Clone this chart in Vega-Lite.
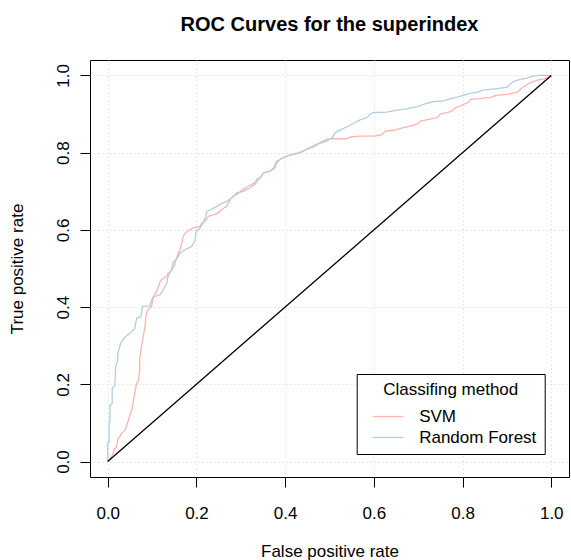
{
  "$schema": "https://vega.github.io/schema/vega-lite/v6.json",
  "width": 479,
  "height": 417,
  "autosize": "none",
  "padding": {"left": 90, "top": 60, "right": 2, "bottom": 83},
  "background": "white",
  "config": {
    "view": {"stroke": "black", "strokeWidth": 1},
    "font": "Liberation Sans"
  },
  "title": {
    "text": "ROC Curves for the superindex",
    "font": "Liberation Sans",
    "fontSize": 20,
    "fontWeight": "bold",
    "color": "black",
    "anchor": "middle",
    "frame": "group",
    "baseline": "alphabetic",
    "offset": 9
  },
  "datasets": {
    "roc": [
      {"m":"SVM","i":0,"x":0,"y":0},{"m":"SVM","i":1,"x":0.005,"y":0.008},{"m":"SVM","i":2,"x":0.008,"y":0.012},{"m":"SVM","i":3,"x":0.012,"y":0.021},{"m":"SVM","i":4,"x":0.016,"y":0.034},{"m":"SVM","i":5,"x":0.02,"y":0.038},{"m":"SVM","i":6,"x":0.023,"y":0.06},{"m":"SVM","i":7,"x":0.027,"y":0.064},{"m":"SVM","i":8,"x":0.031,"y":0.073},{"m":"SVM","i":9,"x":0.038,"y":0.08},{"m":"SVM","i":10,"x":0.042,"y":0.09},{"m":"SVM","i":11,"x":0.046,"y":0.105},{"m":"SVM","i":12,"x":0.05,"y":0.12},{"m":"SVM","i":13,"x":0.054,"y":0.133},{"m":"SVM","i":14,"x":0.057,"y":0.151},{"m":"SVM","i":15,"x":0.061,"y":0.177},{"m":"SVM","i":16,"x":0.065,"y":0.203},{"m":"SVM","i":17,"x":0.069,"y":0.207},{"m":"SVM","i":18,"x":0.072,"y":0.233},{"m":"SVM","i":19,"x":0.072,"y":0.263},{"m":"SVM","i":20,"x":0.076,"y":0.298},{"m":"SVM","i":21,"x":0.08,"y":0.324},{"m":"SVM","i":22,"x":0.084,"y":0.35},{"m":"SVM","i":23,"x":0.087,"y":0.384},{"m":"SVM","i":24,"x":0.091,"y":0.393},{"m":"SVM","i":25,"x":0.099,"y":0.402},{"m":"SVM","i":26,"x":0.102,"y":0.425},{"m":"SVM","i":27,"x":0.11,"y":0.44},{"m":"SVM","i":28,"x":0.114,"y":0.453},{"m":"SVM","i":29,"x":0.118,"y":0.466},{"m":"SVM","i":30,"x":0.125,"y":0.475},{"m":"SVM","i":31,"x":0.133,"y":0.48},{"m":"SVM","i":32,"x":0.136,"y":0.488},{"m":"SVM","i":33,"x":0.144,"y":0.495},{"m":"SVM","i":34,"x":0.151,"y":0.51},{"m":"SVM","i":35,"x":0.155,"y":0.528},{"m":"SVM","i":36,"x":0.159,"y":0.54},{"m":"SVM","i":37,"x":0.163,"y":0.549},{"m":"SVM","i":38,"x":0.167,"y":0.566},{"m":"SVM","i":39,"x":0.17,"y":0.583},{"m":"SVM","i":40,"x":0.178,"y":0.596},{"m":"SVM","i":41,"x":0.193,"y":0.605},{"m":"SVM","i":42,"x":0.2,"y":0.607},{"m":"SVM","i":43,"x":0.208,"y":0.609},{"m":"SVM","i":44,"x":0.212,"y":0.618},{"m":"SVM","i":45,"x":0.219,"y":0.622},{"m":"SVM","i":46,"x":0.227,"y":0.635},{"m":"SVM","i":47,"x":0.242,"y":0.64},{"m":"SVM","i":48,"x":0.249,"y":0.644},{"m":"SVM","i":49,"x":0.257,"y":0.653},{"m":"SVM","i":50,"x":0.268,"y":0.661},{"m":"SVM","i":51,"x":0.276,"y":0.679},{"m":"SVM","i":52,"x":0.283,"y":0.687},{"m":"SVM","i":53,"x":0.291,"y":0.692},{"m":"SVM","i":54,"x":0.306,"y":0.705},{"m":"SVM","i":55,"x":0.317,"y":0.713},{"m":"SVM","i":56,"x":0.325,"y":0.718},{"m":"SVM","i":57,"x":0.332,"y":0.722},{"m":"SVM","i":58,"x":0.336,"y":0.731},{"m":"SVM","i":59,"x":0.343,"y":0.735},{"m":"SVM","i":60,"x":0.351,"y":0.748},{"m":"SVM","i":61,"x":0.366,"y":0.752},{"m":"SVM","i":62,"x":0.374,"y":0.761},{"m":"SVM","i":63,"x":0.381,"y":0.778},{"m":"SVM","i":64,"x":0.396,"y":0.787},{"m":"SVM","i":65,"x":0.407,"y":0.793},{"m":"SVM","i":66,"x":0.419,"y":0.796},{"m":"SVM","i":67,"x":0.434,"y":0.8},{"m":"SVM","i":68,"x":0.449,"y":0.809},{"m":"SVM","i":69,"x":0.464,"y":0.815},{"m":"SVM","i":70,"x":0.479,"y":0.826},{"m":"SVM","i":71,"x":0.494,"y":0.835},{"m":"SVM","i":72,"x":0.509,"y":0.836},{"m":"SVM","i":73,"x":0.539,"y":0.836},{"m":"SVM","i":74,"x":0.547,"y":0.841},{"m":"SVM","i":75,"x":0.569,"y":0.843},{"m":"SVM","i":76,"x":0.6,"y":0.843},{"m":"SVM","i":77,"x":0.618,"y":0.846},{"m":"SVM","i":78,"x":0.626,"y":0.856},{"m":"SVM","i":79,"x":0.645,"y":0.858},{"m":"SVM","i":80,"x":0.66,"y":0.863},{"m":"SVM","i":81,"x":0.682,"y":0.869},{"m":"SVM","i":82,"x":0.698,"y":0.874},{"m":"SVM","i":83,"x":0.705,"y":0.882},{"m":"SVM","i":84,"x":0.724,"y":0.886},{"m":"SVM","i":85,"x":0.743,"y":0.891},{"m":"SVM","i":86,"x":0.75,"y":0.9},{"m":"SVM","i":87,"x":0.765,"y":0.904},{"m":"SVM","i":88,"x":0.777,"y":0.908},{"m":"SVM","i":89,"x":0.784,"y":0.917},{"m":"SVM","i":90,"x":0.795,"y":0.921},{"m":"SVM","i":91,"x":0.814,"y":0.931},{"m":"SVM","i":92,"x":0.818,"y":0.938},{"m":"SVM","i":93,"x":0.841,"y":0.94},{"m":"SVM","i":94,"x":0.863,"y":0.943},{"m":"SVM","i":95,"x":0.878,"y":0.949},{"m":"SVM","i":96,"x":0.901,"y":0.951},{"m":"SVM","i":97,"x":0.924,"y":0.957},{"m":"SVM","i":98,"x":0.935,"y":0.969},{"m":"SVM","i":99,"x":0.954,"y":0.982},{"m":"SVM","i":100,"x":0.969,"y":0.988},{"m":"SVM","i":101,"x":0.984,"y":0.991},{"m":"SVM","i":102,"x":1,"y":1},
      {"m":"Random Forest","i":0,"x":0,"y":0},{"m":"Random Forest","i":1,"x":0,"y":0.05},{"m":"Random Forest","i":2,"x":0.003,"y":0.05},{"m":"Random Forest","i":3,"x":0.003,"y":0.099},{"m":"Random Forest","i":4,"x":0.005,"y":0.105},{"m":"Random Forest","i":5,"x":0.005,"y":0.146},{"m":"Random Forest","i":6,"x":0.01,"y":0.15},{"m":"Random Forest","i":7,"x":0.01,"y":0.19},{"m":"Random Forest","i":8,"x":0.016,"y":0.196},{"m":"Random Forest","i":9,"x":0.018,"y":0.246},{"m":"Random Forest","i":10,"x":0.022,"y":0.26},{"m":"Random Forest","i":11,"x":0.023,"y":0.28},{"m":"Random Forest","i":12,"x":0.029,"y":0.306},{"m":"Random Forest","i":13,"x":0.038,"y":0.322},{"m":"Random Forest","i":14,"x":0.05,"y":0.332},{"m":"Random Forest","i":15,"x":0.061,"y":0.345},{"m":"Random Forest","i":16,"x":0.065,"y":0.371},{"m":"Random Forest","i":17,"x":0.075,"y":0.376},{"m":"Random Forest","i":18,"x":0.078,"y":0.402},{"m":"Random Forest","i":19,"x":0.095,"y":0.403},{"m":"Random Forest","i":20,"x":0.099,"y":0.419},{"m":"Random Forest","i":21,"x":0.106,"y":0.428},{"m":"Random Forest","i":22,"x":0.118,"y":0.432},{"m":"Random Forest","i":23,"x":0.125,"y":0.445},{"m":"Random Forest","i":24,"x":0.133,"y":0.462},{"m":"Random Forest","i":25,"x":0.136,"y":0.48},{"m":"Random Forest","i":26,"x":0.144,"y":0.497},{"m":"Random Forest","i":27,"x":0.148,"y":0.518},{"m":"Random Forest","i":28,"x":0.155,"y":0.523},{"m":"Random Forest","i":29,"x":0.163,"y":0.54},{"m":"Random Forest","i":30,"x":0.178,"y":0.551},{"m":"Random Forest","i":31,"x":0.189,"y":0.557},{"m":"Random Forest","i":32,"x":0.197,"y":0.575},{"m":"Random Forest","i":33,"x":0.199,"y":0.596},{"m":"Random Forest","i":34,"x":0.208,"y":0.605},{"m":"Random Forest","i":35,"x":0.215,"y":0.618},{"m":"Random Forest","i":36,"x":0.221,"y":0.635},{"m":"Random Forest","i":37,"x":0.223,"y":0.648},{"m":"Random Forest","i":38,"x":0.234,"y":0.653},{"m":"Random Forest","i":39,"x":0.246,"y":0.661},{"m":"Random Forest","i":40,"x":0.253,"y":0.666},{"m":"Random Forest","i":41,"x":0.268,"y":0.674},{"m":"Random Forest","i":42,"x":0.28,"y":0.683},{"m":"Random Forest","i":43,"x":0.291,"y":0.696},{"m":"Random Forest","i":44,"x":0.306,"y":0.7},{"m":"Random Forest","i":45,"x":0.321,"y":0.709},{"m":"Random Forest","i":46,"x":0.332,"y":0.718},{"m":"Random Forest","i":47,"x":0.34,"y":0.731},{"m":"Random Forest","i":48,"x":0.347,"y":0.739},{"m":"Random Forest","i":49,"x":0.351,"y":0.748},{"m":"Random Forest","i":50,"x":0.366,"y":0.752},{"m":"Random Forest","i":51,"x":0.377,"y":0.761},{"m":"Random Forest","i":52,"x":0.381,"y":0.774},{"m":"Random Forest","i":53,"x":0.389,"y":0.783},{"m":"Random Forest","i":54,"x":0.404,"y":0.791},{"m":"Random Forest","i":55,"x":0.419,"y":0.796},{"m":"Random Forest","i":56,"x":0.434,"y":0.8},{"m":"Random Forest","i":57,"x":0.449,"y":0.809},{"m":"Random Forest","i":58,"x":0.472,"y":0.822},{"m":"Random Forest","i":59,"x":0.494,"y":0.83},{"m":"Random Forest","i":60,"x":0.506,"y":0.839},{"m":"Random Forest","i":61,"x":0.513,"y":0.852},{"m":"Random Forest","i":62,"x":0.528,"y":0.861},{"m":"Random Forest","i":63,"x":0.543,"y":0.869},{"m":"Random Forest","i":64,"x":0.558,"y":0.878},{"m":"Random Forest","i":65,"x":0.569,"y":0.885},{"m":"Random Forest","i":66,"x":0.585,"y":0.891},{"m":"Random Forest","i":67,"x":0.592,"y":0.9},{"m":"Random Forest","i":68,"x":0.6,"y":0.904},{"m":"Random Forest","i":69,"x":0.63,"y":0.905},{"m":"Random Forest","i":70,"x":0.652,"y":0.91},{"m":"Random Forest","i":71,"x":0.675,"y":0.914},{"m":"Random Forest","i":72,"x":0.698,"y":0.919},{"m":"Random Forest","i":73,"x":0.72,"y":0.928},{"m":"Random Forest","i":74,"x":0.735,"y":0.932},{"m":"Random Forest","i":75,"x":0.758,"y":0.934},{"m":"Random Forest","i":76,"x":0.773,"y":0.94},{"m":"Random Forest","i":77,"x":0.788,"y":0.944},{"m":"Random Forest","i":78,"x":0.803,"y":0.949},{"m":"Random Forest","i":79,"x":0.818,"y":0.954},{"m":"Random Forest","i":80,"x":0.833,"y":0.956},{"m":"Random Forest","i":81,"x":0.845,"y":0.962},{"m":"Random Forest","i":82,"x":0.863,"y":0.964},{"m":"Random Forest","i":83,"x":0.886,"y":0.967},{"m":"Random Forest","i":84,"x":0.901,"y":0.97},{"m":"Random Forest","i":85,"x":0.912,"y":0.982},{"m":"Random Forest","i":86,"x":0.924,"y":0.988},{"m":"Random Forest","i":87,"x":0.946,"y":0.994},{"m":"Random Forest","i":88,"x":0.961,"y":0.999},{"m":"Random Forest","i":89,"x":0.976,"y":1},{"m":"Random Forest","i":90,"x":1,"y":1}
    ],
    "diag": [{"x":0,"y":0},{"x":1,"y":1}]
  },
  "encoding": {
    "x": {
      "field": "x", "type": "quantitative",
      "scale": {"domain": [-0.04, 1.04], "nice": false, "zero": false},
      "axis": {
        "values": [0, 0.2, 0.4, 0.6, 0.8, 1],
        "format": ".1f",
        "domain": false,
        "grid": true, "gridColor": "#D3D3D3", "gridDash": [1, 3], "gridWidth": 1,
        "ticks": true, "tickSize": 10, "tickColor": "black", "tickWidth": 1,
        "labelFont": "Liberation Sans", "labelFontSize": 17, "labelColor": "black",
        "labelBaseline": "alphabetic", "labelPadding": 31, "labelFlush": false, "labelOverlap": false,
        "title": "False positive rate",
        "titleFont": "Liberation Sans", "titleFontSize": 17, "titleFontWeight": "normal", "titleColor": "black",
        "titleX": 239.5, "titleY": 79, "titleAlign": "center", "titleBaseline": "alphabetic", "titleAngle": 0
      }
    },
    "y": {
      "field": "y", "type": "quantitative",
      "scale": {"domain": [-0.04, 1.04], "nice": false, "zero": false},
      "axis": {
        "values": [0, 0.2, 0.4, 0.6, 0.8, 1],
        "format": ".1f",
        "domain": false,
        "grid": true, "gridColor": "#D3D3D3", "gridDash": [1, 3], "gridWidth": 1,
        "ticks": true, "tickSize": 10, "tickColor": "black", "tickWidth": 1,
        "labelFont": "Liberation Sans", "labelFontSize": 17, "labelColor": "black",
        "labelAngle": -90, "labelAlign": "center", "labelBaseline": "alphabetic", "labelPadding": 12,
        "labelFlush": false, "labelOverlap": false,
        "title": "True positive rate",
        "titleFont": "Liberation Sans", "titleFontSize": 17, "titleFontWeight": "normal", "titleColor": "black",
        "titleX": -68, "titleY": 208.5, "titleAlign": "center", "titleBaseline": "alphabetic", "titleAngle": -90
      }
    }
  },
  "layer": [
    {
      "data": {"name": "roc"},
      "mark": {"type": "line", "strokeWidth": 1.3},
      "encoding": {
        "order": {"field": "i", "type": "quantitative"},
        "color": {
          "field": "m", "type": "nominal",
          "scale": {"domain": ["SVM", "Random Forest"], "range": ["#FBB4AE", "#B3CDE3"]},
          "legend": {
            "orient": "none", "legendX": 266.7, "legendY": 314,
            "title": "Classifing method",
            "titleFont": "Liberation Sans", "titleFontSize": 17, "titleFontWeight": "normal", "titleColor": "black",
            "titleAnchor": "middle", "titlePadding": 9,
            "labelFont": "Liberation Sans", "labelFontSize": 17, "labelColor": "black",
            "symbolType": "M-2,0H2", "symbolSize": 240, "symbolStrokeWidth": 1.3, "symbolOffset": 14.75,
            "labelOffset": 22.7, "padding": 8, "rowPadding": 3,
            "strokeColor": "black", "fillColor": "white"
          }
        }
      }
    },
    {
      "data": {"name": "diag"},
      "mark": {"type": "line", "color": "black", "strokeWidth": 1.3},
      "encoding": {}
    }
  ]
}
